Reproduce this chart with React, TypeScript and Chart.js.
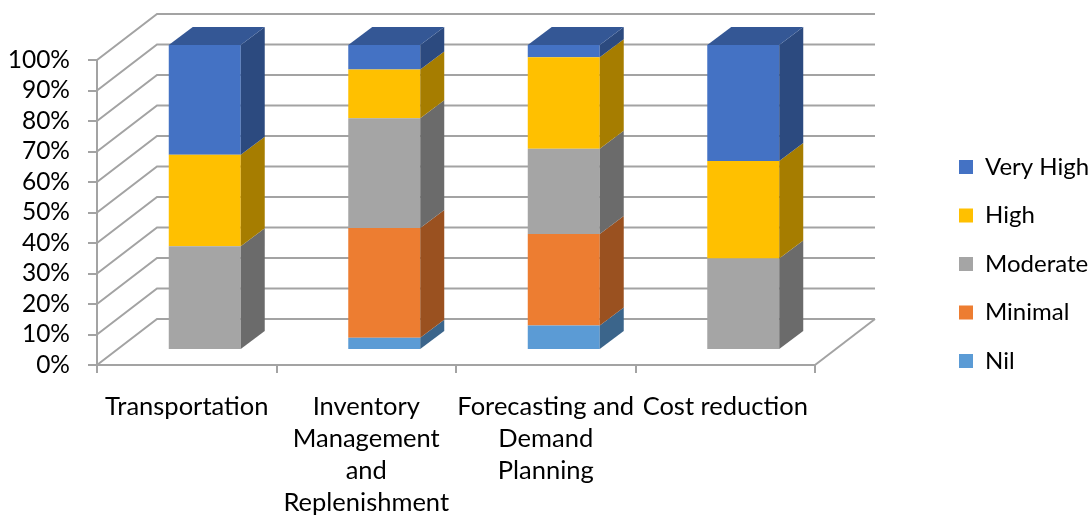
import React, { useEffect, useRef } from "react";
import { Chart, registerables } from "chart.js";

Chart.register(...registerables);

// Survey categories (multi-line axis labels)
const categories: string[][] = [
  ["Transportation"],
  ["Inventory", "Management", "and", "Replenishment"],
  ["Forecasting and", "Demand", "Planning"],
  ["Cost reduction"],
];

// Share of responses per rating level (%)
const nil = [0, 4, 8, 0];
const minimal = [0, 36, 30, 0];
const moderate = [34, 36, 28, 30];
const high = [30, 16, 30, 32];
const veryHigh = [36, 8, 4, 38];

const seriesNames = ["Nil", "Minimal", "Moderate", "High", "Very High"];
const frontColors = ["#5B9BD5", "#ED7D31", "#A5A5A5", "#FFC000", "#4472C4"];
const sideColors = ["#3B658B", "#9A5120", "#6B6B6B", "#A67D00", "#2C4A7F"];
const topColors = ["#4576A2", "#B45F25", "#7D7D7D", "#C29200", "#345795"];

const yTickValues = [0, 10, 20, 30, 40, 50, 60, 70, 80, 90, 100];

const FONT = "Lato, 'Open Sans', sans-serif";
const GRID = "#A3A3A3";

// Perspective offsets used for the pseudo-3D walls and bar prisms
const WALL = { dx: 60, dy: -46 };
const BAR_SHIFT = { dx: 18, dy: -15 };
const BAR_DEPTH = { dx: 24, dy: -18 };

const threeD = {
  id: "threeD",
  beforeDatasetsDraw(chart: any) {
    const { ctx, chartArea: a, scales } = chart;
    const y = scales.y;
    ctx.save();
    ctx.strokeStyle = GRID;
    ctx.lineWidth = 2;
    ctx.lineJoin = "miter";
    for (const v of yTickValues) {
      const py = y.getPixelForValue(v);
      ctx.beginPath();
      ctx.moveTo(a.left, py);
      ctx.lineTo(a.left + WALL.dx, py + WALL.dy);
      ctx.lineTo(a.right + WALL.dx, py + WALL.dy);
      ctx.stroke();
    }
    const y0 = y.getPixelForValue(0);
    ctx.beginPath();
    ctx.moveTo(a.right + WALL.dx, y0 + WALL.dy);
    ctx.lineTo(a.right, y0);
    ctx.stroke();
    ctx.restore();

    ctx.save();
    ctx.translate(BAR_SHIFT.dx, BAR_SHIFT.dy);
  },
  afterDatasetsDraw(chart: any) {
    const { ctx } = chart;
    const n = chart.data.labels.length;
    const topIdx: number[] = new Array(n).fill(-1);
    chart.data.datasets.forEach((ds: any, di: number) => {
      ds.data.forEach((v: number, i: number) => {
        if (v > 0) topIdx[i] = di;
      });
    });
    chart.data.datasets.forEach((ds: any, di: number) => {
      const meta = chart.getDatasetMeta(di);
      meta.data.forEach((el: any, i: number) => {
        const p = el.getProps(["x", "y", "base", "width"], true);
        const top = Math.min(p.y, p.base);
        const bottom = Math.max(p.y, p.base);
        if (bottom - top < 0.5) return;
        const left = p.x - p.width / 2;
        const right = p.x + p.width / 2;
        ctx.fillStyle = sideColors[di];
        ctx.beginPath();
        ctx.moveTo(right, bottom);
        ctx.lineTo(right, top);
        ctx.lineTo(right + BAR_DEPTH.dx, top + BAR_DEPTH.dy);
        ctx.lineTo(right + BAR_DEPTH.dx, bottom + BAR_DEPTH.dy);
        ctx.closePath();
        ctx.fill();
        if (topIdx[i] === di) {
          ctx.fillStyle = topColors[di];
          ctx.beginPath();
          ctx.moveTo(left, top);
          ctx.lineTo(left + BAR_DEPTH.dx, top + BAR_DEPTH.dy);
          ctx.lineTo(right + BAR_DEPTH.dx, top + BAR_DEPTH.dy);
          ctx.lineTo(right, top);
          ctx.closePath();
          ctx.fill();
        }
      });
    });
    ctx.restore();
  },
};

export default function App() {
  const ref = useRef<HTMLCanvasElement>(null);

  useEffect(() => {
    document.body.style.margin = "0";
    document.body.style.overflow = "hidden";
    const values = [nil, minimal, moderate, high, veryHigh];
    const chart = new Chart(ref.current as HTMLCanvasElement, {
      type: "bar",
      data: {
        labels: categories as any,
        datasets: values.map((d, i) => ({
          label: seriesNames[i],
          data: d,
          backgroundColor: frontColors[i],
          borderWidth: 0,
          barPercentage: 0.401,
          categoryPercentage: 1,
          clip: false as any,
        })),
      },
      options: {
        animation: false,
        responsive: false,
        devicePixelRatio: 1,
        layout: { padding: { top: 12, left: 0, right: 0, bottom: 0 } },
        plugins: {
          title: {
            display: true,
            text: "",
            font: { size: 10, lineHeight: 1 },
            padding: { top: 38, bottom: 0 },
          },
          legend: {
            position: "right",
            reverse: true,
            maxWidth: 157.5,
            labels: {
              boxWidth: 14,
              boxHeight: 14,
              padding: 24.5,
              color: "#000",
              font: { family: FONT, size: 24 },
            },
          },
          tooltip: { enabled: false },
        },
        scales: {
          x: {
            stacked: true,
            grid: {
              drawOnChartArea: false,
              drawTicks: true,
              tickLength: 8,
              color: GRID,
              lineWidth: 2,
              offset: true,
            },
            border: { display: true, color: GRID, width: 2 },
            ticks: {
              color: "#000",
              font: { family: FONT, size: 25.5, lineHeight: 1.255 },
              maxRotation: 0,
              autoSkip: false,
              padding: 18,
            },
            afterFit: (s: any) => {
              s.height = 151;
            },
          },
          y: {
            stacked: true,
            min: 0,
            max: 100,
            grid: {
              drawOnChartArea: false,
              tickLength: 9,
              color: GRID,
              lineWidth: 2,
            },
            border: { display: true, color: GRID, width: 2 },
            ticks: {
              stepSize: 10,
              autoSkip: false,
              color: "#000",
              font: { family: FONT, size: 24.5 },
              padding: 18,
              callback: (v: any) => `${v}%`,
            },
            afterFit: (s: any) => {
              s.width = 97;
            },
          },
          y2: {
            position: "right",
            display: true,
            grid: { display: false },
            ticks: { display: false },
            border: { display: false },
            afterFit: (s: any) => {
              s.width = 119.5;
            },
          },
        },
      },
      plugins: [threeD],
    });
    return () => chart.destroy();
  }, []);

  return (
    <div style={{ width: 1092, height: 516 }}>
      <canvas ref={ref} width={1092} height={516} style={{ display: "block" }} />
    </div>
  );
}
